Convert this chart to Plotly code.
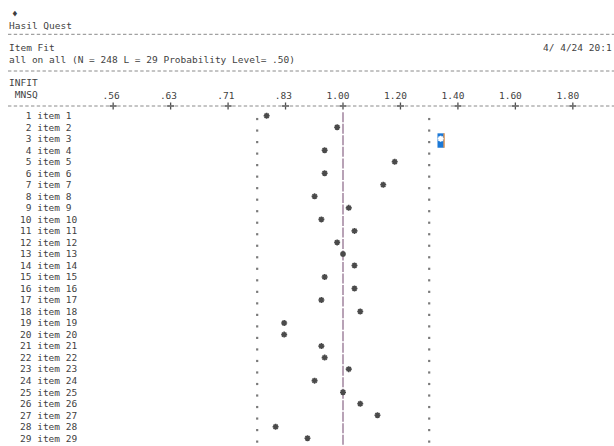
import plotly.graph_objects as go

# ---- data -------------------------------------------------------------
item_no = list(range(1, 30))
item_names = [f"item {n}" for n in item_no]
infit_mnsq = [0.79, 0.98, 1.34, 0.94, 1.18, 0.94, 1.14, 0.91, 1.02, 0.93,
              1.04, 0.98, 1.00, 1.04, 0.94, 1.04, 0.93, 1.06, 0.83, 0.83,
              0.93, 0.94, 1.02, 0.91, 1.00, 1.06, 1.12, 0.81, 0.89]
tick_values = [1 / 1.8, 1 / 1.6, 1 / 1.4, 1 / 1.2, 1.0, 1.2, 1.4, 1.6, 1.8]
tick_labels = [".56", ".63", ".71", ".83", "1.00", "1.20", "1.40", "1.60", "1.80"]
fit_bounds = [0.77, 1.30]
misfit_item = 3

# ---- page geometry ----------------------------------------------------
W, H = 614, 446
MONO = "DejaVu Sans Mono, Liberation Mono, monospace"
INK = "#3f3f3f"
RULE = "#8a8a8a"
NB = "\u00a0"


def quest_scale(v):
    """Quest INFIT scale: linear above 1, reciprocal-symmetric below 1."""
    return (v - 1) / 0.2 if v >= 1 else (1 - 1 / v) / 0.2


# pixel helpers for the text header
X_ORIGIN, X_STEP = 343.0, 57.46      # px of 1.00 and px per tick step
Y_ITEM1, Y_ROW = 115.7, 11.52         # px of item 1 and px per text row


def xr_px(px):
    return (px - X_ORIGIN) / X_STEP


def yr_px(px):
    return 1 + (px - Y_ITEM1) / Y_ROW


def py(px):
    return 1 - px / H


def px_x(px):
    return px / W


xs = [quest_scale(v) for v in infit_mnsq]
fig = go.Figure()

# acceptance bounds drawn as a column of dots on every item row
for b in fit_bounds:
    fig.add_trace(go.Scatter(
        x=[quest_scale(b)] * len(item_no), y=[n + 0.29 for n in item_no],
        mode="markers", marker=dict(symbol="square", size=2.2, color="#7a7a7a"),
        hoverinfo="skip", showlegend=False))

# reference line at MNSQ = 1.00
fig.add_trace(go.Scatter(
    x=[quest_scale(1.0)] * 2, y=[yr_px(112.3), yr_px(446)],
    mode="lines", line=dict(color="#b8a2b6", width=2, dash="10px,1.52px"),
    hoverinfo="skip", showlegend=False))

# selection box around the misfitting item
k = item_no.index(misfit_item)
sx = xs[k]
fig.add_shape(type="rect", xref="x", yref="y",
              x0=sx - 3.2 / X_STEP, x1=sx + 3.4 / X_STEP,
              y0=misfit_item - 5.4 / Y_ROW, y1=misfit_item + 9.0 / Y_ROW,
              fillcolor="#1b78d6", line=dict(width=0), layer="below")
fig.add_shape(type="line", xref="x", yref="y",
              x0=sx + 3.4 / X_STEP, x1=sx + 3.4 / X_STEP,
              y0=misfit_item - 5.4 / Y_ROW, y1=misfit_item + 9.0 / Y_ROW,
              line=dict(color="#e29a5a", width=1.5), layer="below")

# item INFIT MNSQ stars
colors = ["#ffffff" if n == misfit_item else "#4a4a4a" for n in item_no]
fig.add_trace(go.Scatter(
    x=xs, y=item_no, mode="markers",
    marker=dict(symbol="asterisk-open", size=5, color=colors,
                line=dict(width=1.6, color=colors)),
    text=item_names, hovertemplate="%{text}: %{customdata:.2f}<extra></extra>",
    customdata=infit_mnsq, showlegend=False))

# '+' tick marks on the scale rule
fig.add_trace(go.Scatter(
    x=[quest_scale(v) for v in tick_values], y=[yr_px(106)] * len(tick_values),
    mode="markers", marker=dict(symbol="cross-thin-open", size=5, color="#505050",
                                line=dict(width=1.3, color="#505050")),
    hoverinfo="skip", showlegend=False, cliponaxis=False))

# dashed rules
for ypx in (34.3, 71.0, 106.0):
    fig.add_shape(type="line", xref="paper", yref="paper",
                  x0=px_x(8), x1=1.0, y0=py(ypx), y1=py(ypx),
                  line=dict(color=RULE, width=1, dash="3.4px,2.35px"))

# header text lines
header = [
    ("\u2666", 11, 13.5),
    ("Hasil Quest", 8, 25.0),
    ("Item Fit", 8, 48.0),
    ("4/ 4/24 20:1", 542, 48.0),
    ("all on all (N = 248 L = 29 Probability Level= .50)", 8, 60.0),
    ("INFIT", 8, 83.0),
    (NB + "MNSQ", 8, 94.5),
]
for txt, xpx, ypx in header:
    fig.add_annotation(text=txt.replace(" ", NB), xref="paper", yref="paper",
                       x=px_x(xpx), y=py(ypx), xanchor="left", yanchor="middle",
                       showarrow=False, borderpad=0,
                       font=dict(family=MONO, size=9.5, color=INK))

item_ticktext = [f"{n:>2} {name}".replace(" ", NB) for n, name in zip(item_no, item_names)]
scale_ticktext = [(NB + t) if len(t) == 3 else t for t in tick_labels]

fig.update_layout(
    width=W, height=H, margin=dict(l=0, r=0, t=0, b=0),
    paper_bgcolor="white", plot_bgcolor="white",
    xaxis=dict(range=[xr_px(0), xr_px(W)], side="top", anchor="free",
               position=py(106), showgrid=False, zeroline=False,
               showline=False, ticks="",
               tickvals=[quest_scale(v) for v in tick_values],
               ticktext=scale_ticktext, ticklabelshift=-5,
               ticklabelstandoff=5,
               tickfont=dict(family=MONO, size=9.5, color=INK)),
    yaxis=dict(range=[yr_px(H), yr_px(0)], domain=[0, 1],
               showgrid=False, zeroline=False, showline=False, ticks="",
               tickvals=item_no, ticktext=item_ticktext,
               ticklabelposition="inside", ticklabelstandoff=17,
               tickfont=dict(family=MONO, size=9.5, color=INK)),
)

fig.write_html("out.html")
